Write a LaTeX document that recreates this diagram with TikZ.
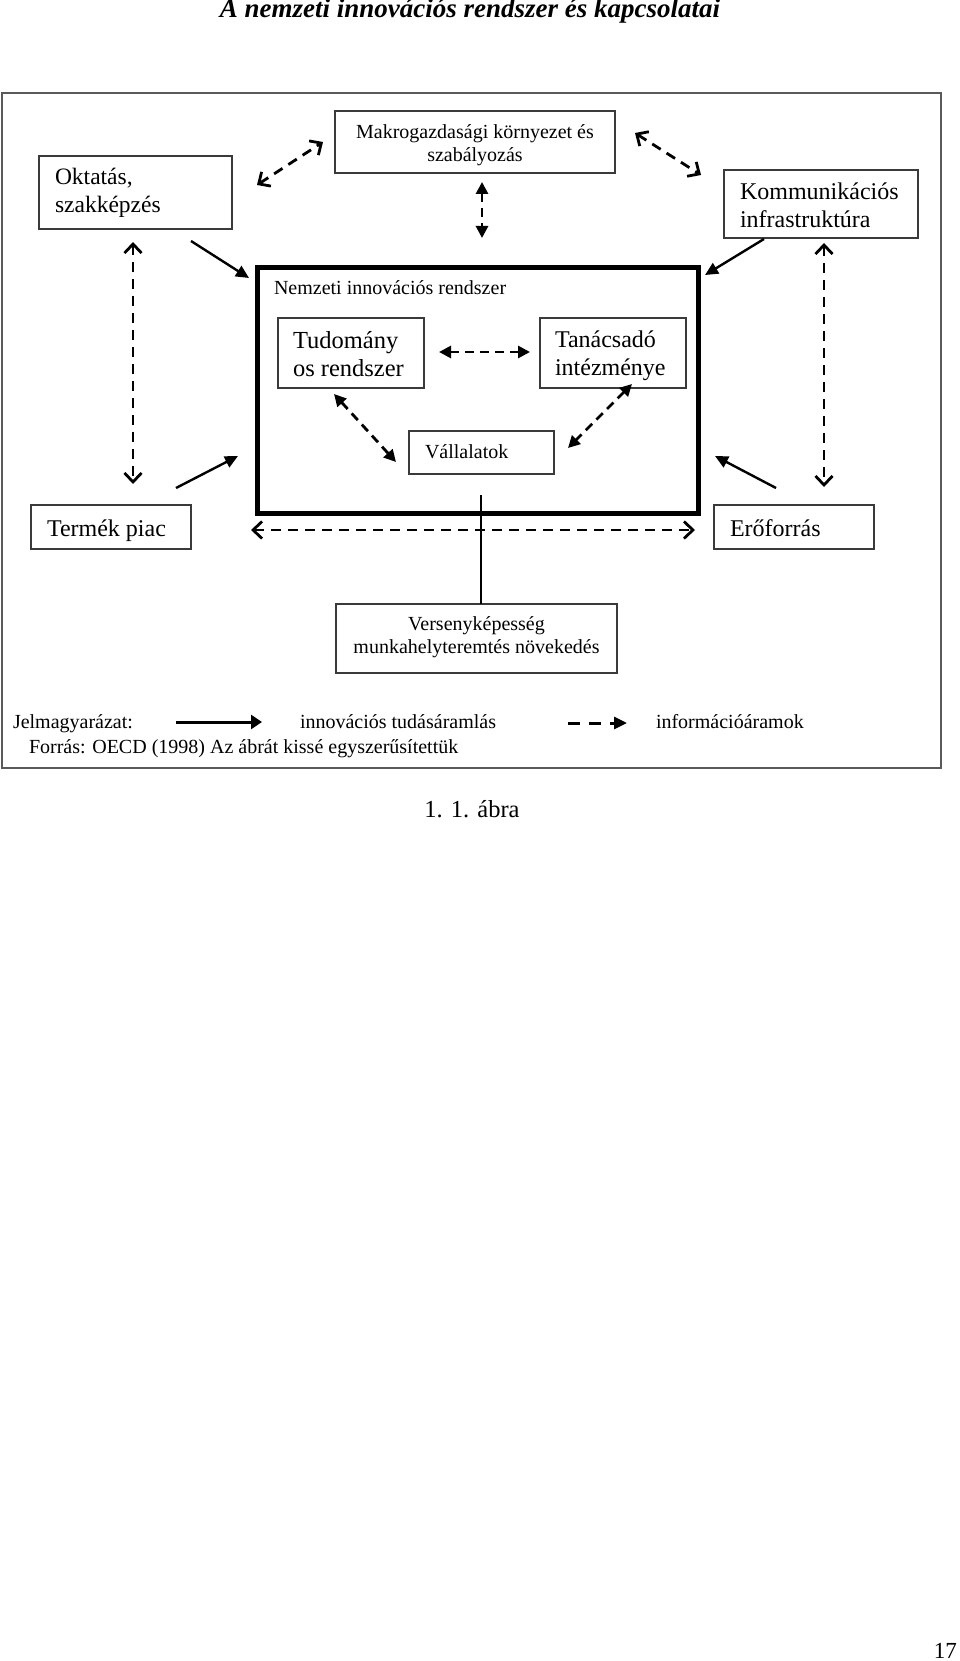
\documentclass[tikz,border=0pt]{standalone}
\usepackage{fontspec}
\setmainfont{Liberation Serif}
\usetikzlibrary{arrows.meta}
\definecolor{boxc}{HTML}{3A3A3A}
\definecolor{framec}{HTML}{5A5A5A}
\newcommand\fsz[1]{\fontsize{#1}{#1}\selectfont}
\begin{document}
\begin{tikzpicture}[x=1pt,y=-1pt,
  box/.style={draw=boxc, line width=1.3pt, inner sep=0pt, outer sep=0pt, anchor=north west},
  txt/.style={inner sep=0pt, outer sep=0pt, anchor=base west, text=black},
  ctxt/.style={inner sep=0pt, outer sep=0pt, anchor=base, text=black},
  chevs/.style={line width=2.8pt, dash pattern=on 10pt off 7pt,
     {Straight Barb[length=9pt,width=17pt]}-{Straight Barb[length=9pt,width=17pt]}},
  tris/.style={line width=2.8pt, dash pattern=on 9pt off 6pt,
     {Triangle[length=12pt,width=12pt]}-{Triangle[length=12pt,width=12pt]}},
  solidarr/.style={line width=2.4pt, -{Triangle[length=13pt,width=12pt]}},
]
\useasboundingbox (0,0) rectangle (960,1661);
\fill[white] (0,0) rectangle (960,1661);

% title
\node[ctxt, font=\fsz{27}\bfseries\itshape] (title) at (470,18) {A nemzeti innovációs rendszer és kapcsolatai};

% outer frame
\node[draw=framec, line width=1.5pt, inner sep=0pt, outer sep=0pt, anchor=north west,
      minimum width=939pt, minimum height=675pt] (frame) at (2,93) {};

% boxes
\node[box, minimum width=280pt, minimum height=62pt] (makro) at (335,111) {};
\node[ctxt, font=\fsz{20}] (makro1) at (475,139) {Makrogazdasági környezet és};
\node[ctxt, font=\fsz{20}] (makro2) at (475,162) {szabályozás};

\node[box, minimum width=193pt, minimum height=73pt] (okt) at (39,156) {};
\node[txt, font=\fsz{23.5}] (okt1) at (55,185) {Oktatás,};
\node[txt, font=\fsz{23.5}] (okt2) at (55,213) {szakképzés};

\node[box, minimum width=194pt, minimum height=68pt] (komm) at (724,170) {};
\node[txt, font=\fsz{24}] (komm1) at (740,200) {Kommunikációs};
\node[txt, font=\fsz{24}] (komm2) at (740,228) {infrastruktúra};

\node[draw=black, line width=5pt, inner sep=0pt, outer sep=0pt, anchor=north west,
      minimum width=441pt, minimum height=245pt] (nir) at (257,268) {};
\node[txt, font=\fsz{20}] (nirt) at (274,295) {Nemzeti innovációs rendszer};

\node[box, minimum width=146pt, minimum height=70pt] (tud) at (278,318) {};
\node[txt, font=\fsz{24.5}] (tud1) at (293,348) {Tudomány};
\node[txt, font=\fsz{24.5}] (tud2) at (293,376) {os rendszer};

\node[box, minimum width=146pt, minimum height=70pt] (tan) at (540,318) {};
\node[txt, font=\fsz{24}] (tan1) at (555,347) {Tanácsadó};
\node[txt, font=\fsz{24}] (tan2) at (555,375) {intézménye};

\node[box, minimum width=145pt, minimum height=43pt] (vall) at (409,431) {};
\node[txt, font=\fsz{20}] (vallt) at (425,458) {Vállalatok};

\node[box, minimum width=160pt, minimum height=44pt] (term) at (31,505) {};
\node[txt, font=\fsz{24}] (termt) at (47,536) {Termék piac};

\node[box, minimum width=160pt, minimum height=44pt] (ero) at (714,505) {};
\node[txt, font=\fsz{24}] (erot) at (730,536) {Erőforrás};

\node[box, minimum width=281pt, minimum height=69pt] (vers) at (336,604) {};
\node[ctxt, font=\fsz{20}] (vers1) at (476.5,630) {Versenyképesség};
\node[ctxt, font=\fsz{20}] (vers2) at (476.5,653) {munkahelyteremtés növekedés};

% connector end points
\coordinate (om1) at (257,185); \coordinate (om2) at (323,142);
\coordinate (mk1) at (635,133); \coordinate (mk2) at (701,175);
\coordinate (mv1) at (482,182); \coordinate (mv2) at (482,238);
\coordinate (lv1) at (133,242); \coordinate (lv2) at (133,484);
\coordinate (rv1) at (824,243); \coordinate (rv2) at (824,487);
\coordinate (tt1) at (439,352); \coordinate (tt2) at (530,352);
\coordinate (tv1) at (334,394); \coordinate (tv2) at (396,462);
\coordinate (av1) at (632,384); \coordinate (av2) at (568,448);
\coordinate (bh1) at (251,530); \coordinate (bh2) at (695,530);
\coordinate (on1) at (191,241); \coordinate (on2) at (249,278);
\coordinate (kn1) at (764,239); \coordinate (kn2) at (705,275);
\coordinate (pn1) at (176,488); \coordinate (pn2) at (238,456);
\coordinate (en1) at (776,488); \coordinate (en2) at (715,456);
\coordinate (vl1) at (481,495);

% dashed (information) connectors
\draw[chevs] (om1) -- (om2);
\draw[chevs] (mk1) -- (mk2);
\draw[tris] (mv1) -- (mv2);
\draw[chevs] (lv1) -- (lv2);
\draw[chevs] (rv1) -- (rv2);
\draw[tris] (tt1) -- (tt2);
\draw[tris] (tv1) -- (tv2);
\draw[tris] (av1) -- (av2);
\draw[chevs] (bh1) -- (bh2);

% solid (knowledge) connectors
\draw[solidarr] (on1) -- (on2);
\draw[solidarr] (kn1) -- (kn2);
\draw[solidarr] (pn1) -- (pn2);
\draw[solidarr] (en1) -- (en2);

\draw[line width=2pt] (vl1) -- (vers.north -| vl1);

% legend
\node[txt, font=\fsz{20}] (leg1) at (13,728) {Jelmagyarázat:};
\coordinate (ls1) at (176,722); \coordinate (ls2) at (262,722);
\draw[line width=3pt, -{Triangle[length=11pt,width=14pt]}] (ls1) -- (ls2);
\node[txt, font=\fsz{20}] (leg2) at (300,728) {innovációs tudásáramlás};
\coordinate (ld1) at (568,723); \coordinate (ld2) at (627,723);
\draw[line width=3pt, dash pattern=on 12pt off 9pt, -{Triangle[length=13pt,width=12pt]}] (ld1) -- (ld2);
\node[txt, font=\fsz{20}] (leg3) at (656,728) {információáramok};
\node[txt, font=\fsz{20}] (src) at (29,753) {Forrás: OECD (1998) Az ábrát kissé egyszerűsítettük};

% caption and page number
\node[ctxt, font=\fsz{24.5}] (cap) at (472,817) {1. 1. ábra};
\node[inner sep=0pt, anchor=base east, font=\fsz{23}] (pg) at (957,1658) {17};
\end{tikzpicture}
\end{document}
